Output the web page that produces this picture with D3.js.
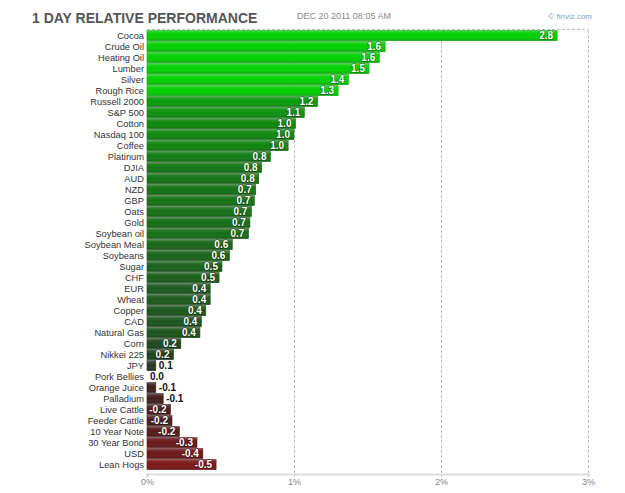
<!DOCTYPE html>
<html>
<head>
<meta charset="utf-8">
<script src="https://cdnjs.cloudflare.com/ajax/libs/d3/7.8.5/d3.min.js"></script>
<style>
  body { margin: 0; background: #fff; }
  svg { font-family: "Liberation Sans", Arial, sans-serif; }
  .cat { font-size: 9.3px; fill: #333; }
  .val { font-size: 10px; font-weight: bold; }
</style>
</head>
<body>
<div id="chart"></div>
<script>
// 1 day relative performance, % change
var names = ["Cocoa", "Crude Oil", "Heating Oil", "Lumber", "Silver", "Rough Rice",
    "Russell 2000", "S&P 500", "Cotton", "Nasdaq 100", "Coffee", "Platinum", "DJIA",
    "AUD", "NZD", "GBP", "Oats", "Gold", "Soybean oil", "Soybean Meal", "Soybeans",
    "Sugar", "CHF", "EUR", "Wheat", "Copper", "CAD", "Natural Gas", "Corn", "Nikkei 225",
    "JPY", "Pork Bellies", "Orange Juice", "Palladium", "Live Cattle", "Feeder Cattle",
    "10 Year Note", "30 Year Bond", "USD", "Lean Hogs"];
var values = [2.79, 1.62, 1.58, 1.51, 1.37, 1.30,
    1.16, 1.07, 1.01, 1.00, 0.96, 0.84, 0.78,
    0.76, 0.74, 0.73, 0.71, 0.70, 0.69, 0.58, 0.56,
    0.51, 0.49, 0.43, 0.43, 0.40, 0.37, 0.36, 0.23, 0.18,
    0.06, 0.0, -0.06, -0.11, -0.16, -0.17,
    -0.22, -0.34, -0.38, -0.47];
var tickValues = [0, 1, 2, 3];

var W = 625, H = 493;
var x0 = 147, x1 = 588, plotTop = 30, plotBottom = 470;

var svg = d3.select("#chart").append("svg")
    .attr("width", W)
    .attr("height", H);

// bar shading: light rim on top, slightly darker at the bottom
var defs = svg.append("defs");
var grad = defs.append("linearGradient")
    .attr("id", "shade").attr("x1", 0).attr("y1", 0).attr("x2", 0).attr("y2", 1);
grad.append("stop").attr("offset", "0%").attr("stop-color", "#fff").attr("stop-opacity", 0.3);
grad.append("stop").attr("offset", "18%").attr("stop-color", "#fff").attr("stop-opacity", 0.08);
grad.append("stop").attr("offset", "50%").attr("stop-color", "#fff").attr("stop-opacity", 0);
grad.append("stop").attr("offset", "100%").attr("stop-color", "#000").attr("stop-opacity", 0.15);

var x = d3.scaleLinear().domain([0, 3]).range([x0, x1]);
var y = d3.scaleBand().domain(names).range([plotTop, plotBottom]).paddingInner(0.09).paddingOuter(0.045);

var color = d3.scaleLinear()
    .domain([-0.5, -0.05, 0, 0.1, 0.5, 1.0, 1.2, 1.3])
    .range(["#801518", "#3a2020", "#303030", "#1f3c1f", "#1b5f1b", "#0e880e", "#0aa00a", "#03d003"])
    .clamp(true);

// title
svg.append("text")
    .attr("x", 32).attr("y", 23)
    .style("font-size", "14px").style("font-weight", "bold").style("fill", "#555")
    .text("1 DAY RELATIVE PERFORMANCE");
svg.append("text")
    .attr("x", 297).attr("y", 19)
    .style("font-size", "9px").style("fill", "#8a8a8a")
    .text("DEC 20 2011 08:05 AM");
svg.append("text")
    .attr("x", 592).attr("y", 19).attr("text-anchor", "end")
    .style("font-size", "8px").style("fill", "#7aa6c0")
    .text("\u00a9 finviz.com");

// grid
var grid = svg.append("g").attr("class", "grid");
grid.append("line")
    .attr("x1", x0).attr("x2", x(3) + 0.5)
    .attr("y1", plotTop - 0.5).attr("y2", plotTop - 0.5)
    .attr("stroke", "#bbb").attr("stroke-dasharray", "3,2");
grid.selectAll(".vg")
    .data(tickValues.slice(1))
    .enter().append("line")
    .attr("class", "vg")
    .attr("x1", function(d){ return Math.round(x(d)) + 0.5; })
    .attr("x2", function(d){ return Math.round(x(d)) + 0.5; })
    .attr("y1", plotTop).attr("y2", plotBottom + 4)
    .attr("stroke", "#bbb").attr("stroke-dasharray", "3,2");

// x axis
var xAxis = d3.axisBottom(x)
    .tickValues(tickValues)
    .tickFormat(function(d){ return d + "%"; })
    .tickSize(3);
var ax = svg.append("g")
    .attr("transform", "translate(0," + (plotBottom + 4) + ")")
    .call(xAxis);
ax.select(".domain").attr("stroke", "#ddd").attr("stroke-width", 2);
ax.selectAll(".tick line").attr("stroke", "#ccc");
ax.selectAll(".tick text")
    .style("font-family", "Liberation Sans, Arial, sans-serif")
    .style("font-size", "9px").attr("fill", "#888").attr("dy", "0.6em");

// category labels
svg.selectAll(".cat")
    .data(names)
    .enter().append("text")
    .attr("class", "cat")
    .attr("x", x0 - 3)
    .attr("y", function(d){ return y(d) + y.bandwidth() / 2; })
    .attr("dy", "0.36em")
    .attr("text-anchor", "end")
    .text(function(d){ return d; });

// bars
var rows = names.map(function(n, i){ return {name: n, value: values[i]}; });

var bars = svg.selectAll(".bar")
    .data(rows)
    .enter().append("g")
    .attr("class", "bar");

bars.append("rect")
    .attr("x", x0)
    .attr("y", function(d){ return y(d.name); })
    .attr("width", function(d){ return x(Math.abs(d.value)) - x0; })
    .attr("height", y.bandwidth())
    .attr("fill", function(d){ return color(d.value); })
    .attr("stroke", function(d){ return d3.color(color(d.value)).darker(0.7); })
    .attr("stroke-width", 0.6);

bars.append("rect")
    .attr("x", x0)
    .attr("y", function(d){ return y(d.name); })
    .attr("width", function(d){ return x(Math.abs(d.value)) - x0; })
    .attr("height", y.bandwidth())
    .attr("fill", "url(#shade)");

bars.append("text")
    .attr("class", "val")
    .attr("x", function(d){
        var w = x(Math.abs(d.value)) - x0;
        return w > 20 ? x0 + w - 4 : x0 + w + 3;
    })
    .attr("y", function(d){ return y(d.name) + y.bandwidth() / 2; })
    .attr("dy", "0.36em")
    .attr("text-anchor", function(d){
        return x(Math.abs(d.value)) - x0 > 20 ? "end" : "start";
    })
    .attr("fill", function(d){
        return x(Math.abs(d.value)) - x0 > 20 ? "#fff" : "#111";
    })
    .style("paint-order", "stroke")
    .attr("stroke", function(d){
        return x(Math.abs(d.value)) - x0 > 20 ? "rgba(0,0,0,0.35)" : "none";
    })
    .attr("stroke-width", 1.5)
    .text(function(d){ return d.value.toFixed(1); });
</script>
</body>
</html>
